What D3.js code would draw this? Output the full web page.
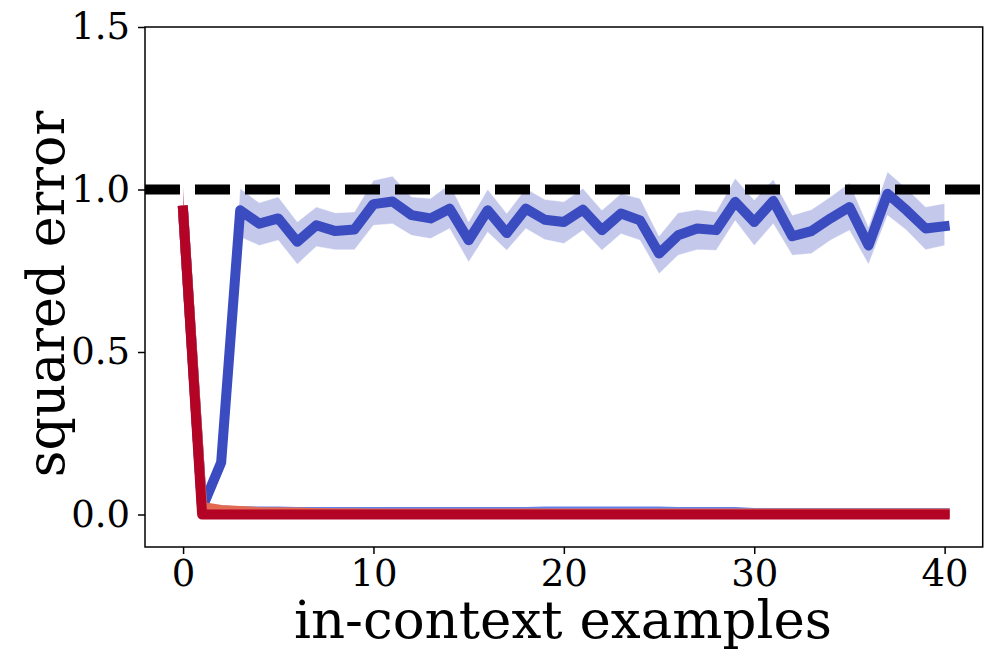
<!DOCTYPE html>
<html><head><meta charset="utf-8">
<script src="https://cdn.jsdelivr.net/npm/d3@7/dist/d3.min.js"></script>
<style>body{margin:0;background:#fff}svg{display:block}</style>
</head><body>
<svg id="c" width="996" height="669"></svg>
<script>
const xs = d3.range(0, 41);
const blueMean = [0.935,0.02,0.16,0.936,0.895,0.911,0.839,0.890,0.872,0.877,0.955,0.963,0.921,0.911,0.941,0.844,0.936,0.866,0.941,0.907,0.900,0.938,0.875,0.926,0.905,0.803,0.859,0.880,0.875,0.962,0.900,0.965,0.856,0.872,0.911,0.946,0.828,0.987,0.936,0.880,0.887];
const blueHi = [0.99,0.04,0.19,1.003,0.959,0.977,0.900,0.946,0.928,0.931,1.028,1.041,0.977,0.972,1.016,0.900,1.000,0.926,1.003,0.969,0.962,1.003,0.936,0.987,0.972,0.856,0.928,0.938,0.931,1.034,0.967,1.031,0.921,0.938,0.977,1.020,0.885,1.054,1.003,0.946,0.957];
const blueLo = [0.88,0.0,0.13,0.854,0.828,0.844,0.770,0.825,0.815,0.815,0.890,0.895,0.859,0.849,0.880,0.777,0.869,0.813,0.880,0.846,0.834,0.875,0.813,0.864,0.844,0.741,0.798,0.815,0.813,0.905,0.828,0.895,0.798,0.803,0.844,0.875,0.770,0.921,0.875,0.815,0.828];
const lightBlue = [0.935,0.02,0.012,0.010,0.009,0.009,0.008,0.008,0.008,0.008,0.008,0.008,0.008,0.008,0.008,0.008,0.008,0.008,0.008,0.009,0.009,0.009,0.009,0.009,0.009,0.009,0.008,0.008,0.008,0.008,0.005,0.005,0.005,0.005,0.005,0.005,0.005,0.005,0.005,0.005,0.005];
const orange = [0.935,0.023,0.014,0.011,0.008,0.007,0.006,0.005,0.004,0.004,0.003,0.003,0.003,0.003,0.003,0.003,0.003,0.003,0.003,0.003,0.003,0.003,0.003,0.003,0.003,0.003,0.003,0.003,0.003,0.003,0.003,0.003,0.003,0.003,0.003,0.003,0.003,0.003,0.003,0.003,0.003];
const red = [0.935,0,0,0,0,0,0,0,0,0,0,0,0,0,0,0,0,0,0,0,0,0,0,0,0,0,0,0,0,0,0,0,0,0,0,0,0,0,0,0,0];
const redHi = [1.01,0,0,0,0,0,0,0,0,0,0,0,0,0,0,0,0,0,0,0,0,0,0,0,0,0,0,0,0,0,0,0,0,0,0,0,0,0,0,0,0];
const redLo = [0.86,0,0,0,0,0,0,0,0,0,0,0,0,0,0,0,0,0,0,0,0,0,0,0,0,0,0,0,0,0,0,0,0,0,0,0,0,0,0,0,0];
const baseline = 1.0;
const xTicks = [0,10,20,30,40];
const yTicks = [0.0,0.5,1.0,1.5];
const xLabel = "in-context examples";
const yLabel = "squared error";

const svg = d3.select("#c");
const L=145, R=982.7, T=27, B=547;
const x = d3.scaleLinear().domain([-2,42]).range([L,R]);
const y = d3.scaleLinear().domain([-0.1,1.5]).range([B,T]);
const font = "'DejaVu Serif', serif";

svg.append("clipPath").attr("id","cl").append("rect").attr("x",L).attr("y",T).attr("width",R-L).attr("height",B-T);
const g = svg.append("g").attr("clip-path","url(#cl)");

const area = (lo,hi)=>d3.area().x((d,i)=>x(xs[i])).y0((d,i)=>y(lo[i])).y1((d,i)=>y(hi[i]));
const line = arr=>d3.line().x((d,i)=>x(xs[i])).y((d,i)=>y(arr[i]))(arr);

g.append("path").attr("d",area(blueLo,blueHi)(xs)).attr("fill","#3b4cc0").attr("fill-opacity",0.3)
  .attr("stroke","#ffffff").attr("stroke-opacity",0.35).attr("stroke-width",1);
g.append("path").attr("d",area(redLo,redHi)(xs)).attr("fill","#b40426").attr("fill-opacity",0.45);

const series = [[blueMean,"#3b4cc0"],[lightBlue,"#6282ea"],[orange,"#e26952"],[red,"#b40426"]];
series.forEach(([arr,c])=>{
  g.append("path").attr("d",line(arr)).attr("fill","none").attr("stroke",c)
   .attr("stroke-width",10).attr("stroke-linejoin","round").attr("stroke-linecap","square");
});

g.append("line").attr("x1",L).attr("x2",R).attr("y1",y(baseline)).attr("y2",y(baseline))
 .attr("stroke","#000").attr("stroke-width",10).attr("stroke-dasharray","35,15");

const xa = svg.append("g").attr("transform",`translate(0,${B})`).call(d3.axisBottom(x).tickValues(xTicks).tickFormat(d3.format("d")).tickSize(7).tickPadding(6));
const ya = svg.append("g").attr("transform",`translate(${L},0)`).call(d3.axisLeft(y).tickValues(yTicks).tickFormat(d3.format(".1f")).tickSize(7).tickPadding(8));
[xa,ya].forEach(a=>{a.select(".domain").remove();a.selectAll("line").attr("stroke","#000").attr("stroke-width",1.5);
  a.selectAll("text").attr("font-family",font).attr("font-size",37).attr("fill","#000");});
svg.append("rect").attr("x",L).attr("y",T).attr("width",R-L).attr("height",B-T).attr("fill","none").attr("stroke","#000").attr("stroke-width",1.5);

svg.append("text").attr("x",563).attr("y",638).attr("text-anchor","middle").attr("font-family",font).attr("font-size",53).text(xLabel);
svg.append("text").attr("transform",`translate(64,294) rotate(-90)`).attr("text-anchor","middle").attr("font-family",font).attr("font-size",52).text(yLabel);
</script>
</body></html>
